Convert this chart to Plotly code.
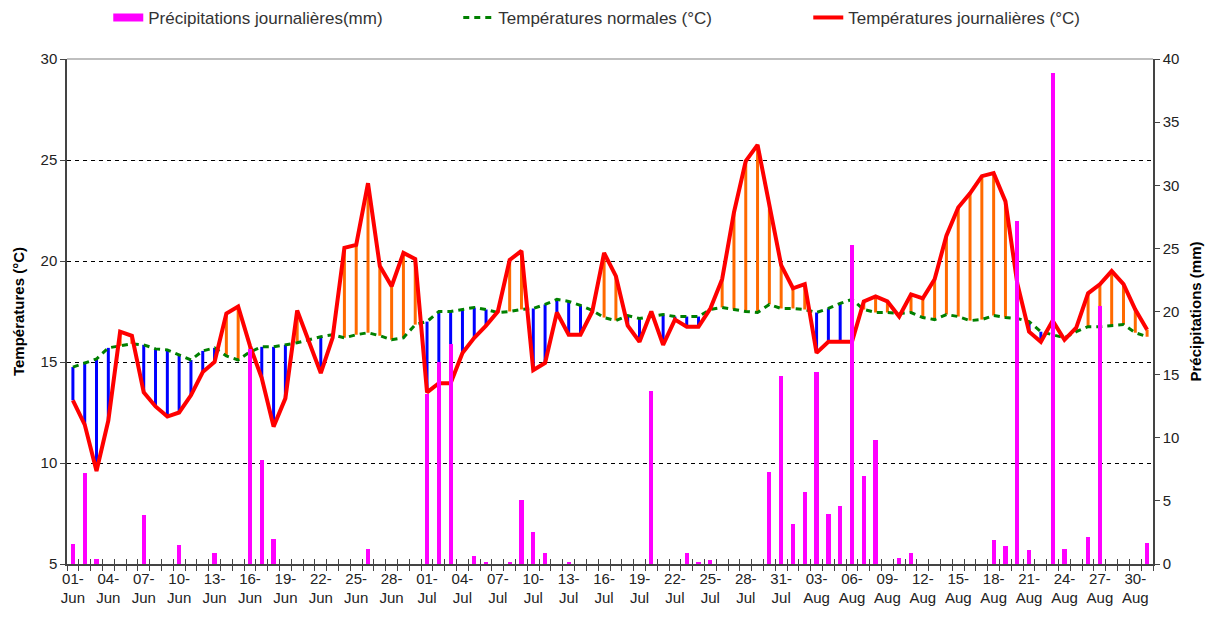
import pandas as pd
import plotly.graph_objects as go

# Days from 1 June to 31 August
days = pd.date_range("2023-06-01", "2023-08-31", freq="D")
months = {6: "Jun", 7: "Jul", 8: "Aug"}
day_labels = [f"{d.day:02d}-<br>{months[d.month]}" for d in days]

# Daily mean temperature (°C)
temp_daily = [
    13.1, 11.9, 9.6, 12.1, 16.5, 16.3, 13.5, 12.8, 12.3, 12.5,
    13.35, 14.5, 15.0, 17.4, 17.75, 15.8, 14.2, 11.8, 13.2, 17.55,
    16.0, 14.45, 16.2, 20.65, 20.8, 23.85, 19.75, 18.75, 20.4, 20.1,
    13.5, 13.95, 13.95, 15.45, 16.2, 16.8, 17.5, 20.05, 20.5, 14.6,
    14.95, 17.45, 16.35, 16.35, 17.5, 20.4, 19.25, 16.8, 16.0, 17.5,
    15.85, 17.1, 16.75, 16.75, 17.65, 19.1, 22.4, 24.95, 25.75, 22.85,
    19.8, 18.65, 18.85, 15.45, 16.0, 16.0, 16.0, 18.0, 18.25, 18.0,
    17.25, 18.35, 18.15, 19.1, 21.25, 22.65, 23.35, 24.2, 24.35, 22.95,
    18.9, 16.5, 16.0, 17.05, 16.1, 16.7, 18.4, 18.85, 19.5, 18.85,
    17.6, 16.6,
]

# Climatological normal temperature (°C)
temp_normal = [
    14.75, 14.95, 15.15, 15.7, 15.8, 15.9, 15.85, 15.65, 15.6, 15.35,
    15.1, 15.55, 15.7, 15.3, 15.1, 15.5, 15.75, 15.75, 15.85, 15.95,
    16.1, 16.25, 16.35, 16.2, 16.35, 16.45, 16.3, 16.1, 16.2, 16.85,
    17.0, 17.5, 17.5, 17.6, 17.7, 17.6, 17.45, 17.5, 17.6, 17.65,
    17.85, 18.1, 18.0, 17.8, 17.55, 17.2, 17.05, 17.3, 17.15, 17.25,
    17.35, 17.25, 17.25, 17.25, 17.6, 17.7, 17.6, 17.5, 17.45, 17.85,
    17.65, 17.65, 17.6, 17.45, 17.65, 17.9, 18.1, 17.6, 17.45, 17.45,
    17.4, 17.45, 17.2, 17.1, 17.35, 17.25, 17.05, 17.1, 17.3, 17.2,
    17.15, 17.0, 16.5, 16.35, 16.2, 16.5, 16.75, 16.75, 16.8, 16.85,
    16.45, 16.25,
]

# Daily precipitation (mm)
precip = [
    1.6, 7.2, 0.4, 0, 0, 0, 3.9, 0, 0, 1.5,
    0, 0, 0.9, 0, 0, 17.0, 8.2, 2.0, 0, 0,
    0, 0, 0, 0, 0, 1.2, 0, 0, 0, 0,
    13.5, 16.0, 17.4, 0, 0.6, 0.15, 0, 0.1, 5.1, 2.5,
    0.85, 0, 0.1, 0, 0, 0, 0, 0, 0, 13.7,
    0, 0, 0.9, 0.15, 0.3, 0, 0, 0, 0, 7.25,
    14.9, 3.2, 5.7, 15.2, 3.95, 4.6, 25.3, 7.0, 9.8, 0,
    0.5, 0.9, 0, 0, 0, 0, 0, 0, 1.9, 1.4,
    27.2, 1.1, 0, 38.9, 1.15, 0, 2.1, 20.4, 0, 0,
    0, 1.7,
]

x = list(range(len(days)))
label_idx = x[::3]

FONT = "Liberation Sans, Arial, sans-serif"
MAGENTA = "#FF00FF"

# Vertical hatch segments between normal and observed temperatures
below_x, below_y, above_x, above_y = [], [], [], []
for i, (t, n) in enumerate(zip(temp_daily, temp_normal)):
    if t < n:
        below_x += [i, i, None]
        below_y += [n, t, None]
    elif t > n:
        above_x += [i, i, None]
        above_y += [n, t, None]

fig = go.Figure()

fig.add_trace(go.Bar(
    x=x, y=precip, name="Précipitations journalières(mm)",
    marker=dict(color=MAGENTA, line=dict(width=0)),
    width=0.36, yaxis="y2", showlegend=False, legendgroup="rain",
))
# wide swatch for the precipitation legend entry
fig.add_trace(go.Scatter(
    x=[None], y=[None], mode="lines", name="Précipitations journalières(mm)",
    line=dict(color=MAGENTA, width=8), legendgroup="rain", hoverinfo="skip",
))
fig.add_trace(go.Scatter(
    x=below_x, y=below_y, mode="lines", showlegend=False,
    line=dict(color="#0000FF", width=3), hoverinfo="skip",
))
fig.add_trace(go.Scatter(
    x=above_x, y=above_y, mode="lines", showlegend=False,
    line=dict(color="#FF6A00", width=3), hoverinfo="skip",
))
fig.add_trace(go.Scatter(
    x=x, y=temp_normal, mode="lines", name="Températures normales (°C)",
    line=dict(color="#008000", width=3, dash="6px,5px"),
))
fig.add_trace(go.Scatter(
    x=x, y=temp_daily, mode="lines", name="Températures journalières (°C)",
    line=dict(color="#FF0000", width=4),
))
# helper trace so the inner tick axis is rendered
fig.add_trace(go.Scatter(
    x=[x[0]], y=[temp_daily[0]], xaxis="x3", mode="markers",
    marker=dict(opacity=0), showlegend=False, hoverinfo="skip",
))

xrange = [-0.5, len(days) - 0.5]

fig.update_layout(
    width=1218, height=626,
    margin=dict(l=67, r=65, t=59, b=62, autoexpand=False),
    paper_bgcolor="white", plot_bgcolor="white",
    font=dict(family=FONT, size=14, color="#222222"),
    bargap=0,
    showlegend=True,
    legend=dict(
        orientation="h", x=0.038, xanchor="left", y=1.117, yanchor="top",
        font=dict(family=FONT, size=17, color="#333333"),
        entrywidth=305, entrywidthmode="pixels",
        bgcolor="rgba(0,0,0,0)", traceorder="normal",
    ),
    xaxis=dict(
        range=xrange, tickmode="array", tickvals=label_idx,
        ticktext=[day_labels[i] for i in label_idx],
        ticks="", showgrid=False, zeroline=False,
        showline=True, linecolor="#444444", linewidth=1.5,
        tickfont=dict(size=15, color="#222222"),
        minor=dict(ticks="outside", tick0=-0.5, dtick=1, ticklen=5,
                   tickcolor="#444444", tickwidth=1, showgrid=False),
    ),
    xaxis3=dict(
        range=xrange, overlaying="x", anchor="y", side="bottom",
        tick0=-0.5, dtick=1, ticks="inside", ticklen=5,
        tickcolor="#444444", tickwidth=1, showticklabels=False,
        showgrid=False, zeroline=False, showline=False,
    ),
    yaxis=dict(
        range=[5, 30], dtick=5, tick0=5,
        title=dict(text="<b>Températures (°C)</b>", font=dict(size=15, color="#000000"), standoff=12),
        showgrid=True, gridcolor="#000000", gridwidth=1, griddash="4px,4px",
        zeroline=False, showline=True, linecolor="#444444", linewidth=1.5,
        ticks="outside", ticklen=5, tickcolor="#444444",
        tickfont=dict(size=15, color="#222222"),
    ),
    yaxis2=dict(
        range=[0, 40], dtick=5, overlaying="y", side="right",
        title=dict(text="<b>Précipitations (mm)</b>", font=dict(size=15, color="#000000"), standoff=12),
        showgrid=False, zeroline=False, showline=True,
        linecolor="#444444", linewidth=1.5,
        ticks="outside", ticklen=5, tickcolor="#444444",
        tickfont=dict(size=15, color="#222222"),
    ),
    shapes=[dict(type="line", xref="paper", yref="paper", x0=0, x1=1, y0=1, y1=1,
                 line=dict(color="#AAAAAA", width=1.5))],
)

fig.write_html("out.html")
